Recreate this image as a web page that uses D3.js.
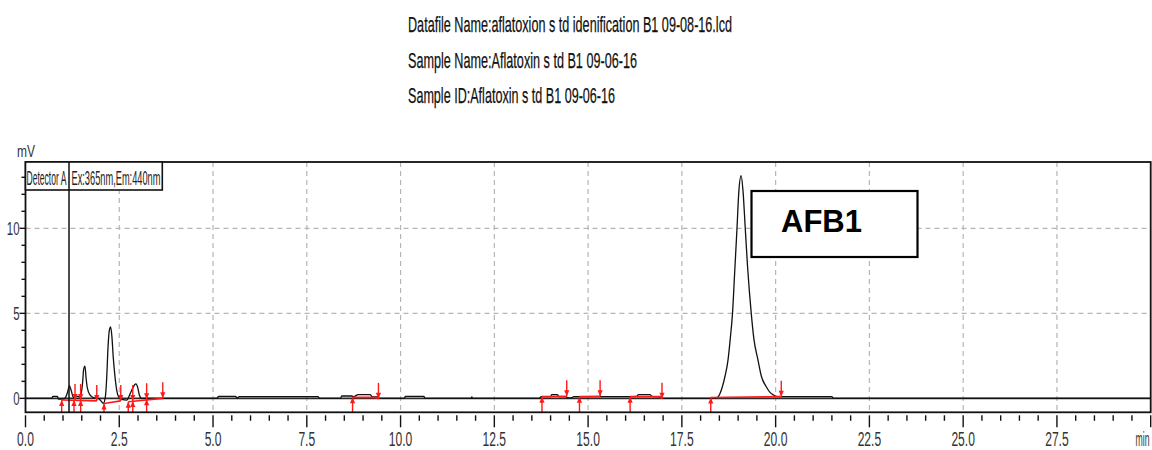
<!DOCTYPE html>
<html><head><meta charset="utf-8">
<script src="https://cdn.jsdelivr.net/npm/d3@7/dist/d3.min.js"></script>
<style>
html,body{margin:0;padding:0;background:#fff;}
svg{display:block;}
</style></head>
<body>
<svg id="c" width="1152" height="450"></svg>
<script>
// ---------- DATA ----------
const headerLines = [
  "Datafile Name:aflatoxion s td idenification B1 09-08-16.lcd",
  "Sample Name:Aflatoxin s td B1 09-06-16",
  "Sample ID:Aflatoxin s td B1 09-06-16"
];
const legendLabels = ["Detector A", "Ex:365nm,Em:440nm"];
const yAxisUnit = "mV";
const xAxisUnit = "min";
const peakLabel = "AFB1";

const xTickLabels = ["0.0","2.5","5.0","7.5","10.0","12.5","15.0","17.5","20.0","22.5","25.0","27.5"];
const yTickLabels = ["0","5","10"];
const cursorTime = [1.16];

const traceTime = [0,0.70,0.73,0.85,0.88,0.95,1.05,1.12,1.17,1.22,1.28,1.33,1.40,1.45,1.50,1.525,1.55,1.585,1.615,1.65,1.72,1.81,1.94,2.00,2.075,2.13,2.165,2.20,2.235,2.27,2.305,2.34,2.385,2.43,2.485,2.565,2.70,2.785,2.86,2.91,2.945,2.99,3.035,3.10,5.10,5.15,5.60,5.64,5.70,7.80,7.84,8.40,8.43,8.70,8.75,8.87,9.19,9.24,9.38,9.43,10.10,10.13,10.62,10.65,11.88,11.90,11.92,13.70,13.75,14.00,14.03,14.18,14.22,14.40,14.46,14.55,14.62,15.37,16.07,16.30,16.34,16.65,16.70,16.94,17.00,18.40,18.47,18.52,18.58,18.65,18.73,18.79,18.85,18.91,18.97,19.02,19.08,19.13,19.19,19.25,19.35,19.42,19.53,19.62,19.75,19.85,19.94,20.07,21.50,21.54,30];
const traceMV   = [0,0,0.12,0.12,-0.05,-0.05,0,0.35,0.75,0.45,0.05,0.12,0.12,0.08,0.5,1.0,1.7,1.9,1.2,0.6,0.2,0.05,0,-0.12,-0.3,0.1,1.2,3.0,4.0,4.2,3.6,2.4,1.3,0.5,0.08,-0.06,-0.1,0.25,0.6,0.8,0.85,0.65,0.2,0,0,0.12,0.12,0.02,0.1,0.1,0,0,0.14,0.14,0.1,0.22,0.22,0.1,0.08,0,0,0.12,0.12,0,0,0.08,0,0,0.1,0.1,0.22,0.22,0.1,0.1,0.03,0.03,0.1,0.1,0.1,0.12,0.22,0.22,0.12,0.08,0,0,0.1,0.3,0.68,1.3,2.25,3.5,5.0,7.5,10.0,12.2,13.1,12.2,10.0,7.8,5.0,3.5,2.25,1.3,0.68,0.35,0.2,0.1,0.1,0,0];

const peakStartTime = [0.965,1.293,1.47,2.093,2.74,2.86,3.23,8.72,13.77,14.77,16.12,18.27];
const peakStartMV   = [-0.1,-0.1,-0.1,-0.3,-0.2,-0.15,-0.05,0.06,0.1,0.1,0.1,0.05];
const peakEndTime   = [1.32,1.47,1.90,2.54,2.86,3.23,3.66,9.41,14.43,15.32,16.97,20.15];
const peakEndMV     = [-0.1,-0.1,-0.15,-0.15,-0.15,-0.05,0,-0.03,0.12,0.12,-0.02,0.1];

const baselineSegments = [
  [[0.965,-0.1],[1.90,-0.15]],
  [[2.093,-0.3],[2.54,-0.15]],
  [[2.74,-0.2],[3.66,0]],
  [[8.72,0.06],[9.30,0.06],[9.41,-0.03]],
  [[13.77,0.1],[14.43,0.12]],
  [[14.77,0.1],[15.32,0.12]],
  [[16.12,0.1],[16.90,0.1],[16.97,-0.02]],
  [[18.27,0.05],[20.15,0.1]]
];

// ---------- LAYOUT ----------
const L = 25.5, R = 1150.7, T = 162, B = 412.3;
const svg = d3.select("#c");
const NARROW = "'Liberation Sans Narrow','Liberation Sans',Arial,sans-serif";

const x = d3.scaleLinear().domain([0, 30]).range([L, R]);
const y = d3.scaleLinear().domain([-0.82, 13.9]).range([B, T]);

function squash(sel, k) {
  sel.each(function () {
    const w = this.getComputedTextLength();
    this.setAttribute("textLength", (w * k).toFixed(2));
    this.setAttribute("lengthAdjust", "spacingAndGlyphs");
  });
}
// horizontally compress a text (anchored at start) to a given width using a transform
function fitWidth(sel, widthFn) {
  sel.each(function (d, i) {
    const w = this.getComputedTextLength();
    const tx = +this.getAttribute("x"), ty = +this.getAttribute("y");
    const s = widthFn(d, i) / w;
    this.setAttribute("x", 0); this.setAttribute("y", 0);
    this.setAttribute("transform", `translate(${tx},${ty}) scale(${s.toFixed(4)},1)`);
  });
}

// header
const headerWidths = [324, 229, 207];
const headerBase = [32, 68, 103];
svg.append("g").selectAll("text").data(headerLines).join("text")
  .attr("x", 408).attr("y", (d, i) => headerBase[i])
  .attr("font-family", NARROW).attr("font-size", 22).attr("fill", "#111")
  .attr("stroke", "#111").attr("stroke-width", 0.25)
  .attr("textLength", (d, i) => headerWidths[i]).attr("lengthAdjust", "spacingAndGlyphs")
  .text(d => d);

// grid
const xMajor = xTickLabels.map(Number);
const grid = svg.append("g").attr("stroke", "#b5b5b5").attr("stroke-width", 1.2).attr("stroke-dasharray", "5,4");
grid.selectAll("line.v").data(xMajor.filter(v => v > 0)).join("line")
  .attr("x1", d => x(d)).attr("x2", d => x(d)).attr("y1", T).attr("y2", B);
grid.selectAll("line.h").data(yTickLabels.map(Number).filter(v => v > 0)).join("line")
  .attr("x1", L).attr("x2", R).attr("y1", d => y(d)).attr("y2", d => y(d));

// zero line
svg.append("line").attr("x1", L).attr("x2", R).attr("y1", y(0)).attr("y2", y(0))
  .attr("stroke", "#2a2a2a").attr("stroke-width", 1.6);

// trace
const traceData = traceTime.map((t, i) => [t, traceMV[i]]);
svg.append("path").datum(traceData)
  .attr("d", d3.line().x(d => x(d[0])).y(d => y(d[1])).curve(d3.curveMonotoneX))
  .attr("fill", "none").attr("stroke", "#111").attr("stroke-width", 1.3);

// integration baselines & markers
const red = "#ff1a1a";
svg.append("g").selectAll("path").data(baselineSegments).join("path")
  .attr("d", d3.line().x(d => x(d[0])).y(d => y(d[1])))
  .attr("fill", "none").attr("stroke", red).attr("stroke-width", 1.6);

const mk = svg.append("g").attr("fill", red).attr("stroke", red);
peakEndTime.forEach((t, i) => {
  const px = x(t), py = y(peakEndMV[i]);
  mk.append("line").attr("x1", px).attr("x2", px).attr("y1", py - 16).attr("y2", py).attr("stroke-width", 1.4);
  mk.append("path").attr("d", `M${px - 2.6},${py - 6}L${px + 2.6},${py - 6}L${px},${py}Z`).attr("stroke", "none");
});
peakStartTime.forEach((t, i) => {
  const px = x(t), py = y(peakStartMV[i]);
  mk.append("line").attr("x1", px).attr("x2", px).attr("y1", B).attr("y2", py).attr("stroke-width", 1.4);
  mk.append("path").attr("d", `M${px - 2.6},${py + 6}L${px + 2.6},${py + 6}L${px},${py}Z`).attr("stroke", "none");
});

// frame
svg.append("rect").attr("x", L).attr("y", T).attr("width", R - L).attr("height", B - T)
  .attr("fill", "none").attr("stroke", "#111").attr("stroke-width", 1.8);

// x ticks
const xt = svg.append("g").attr("stroke", "#111").attr("stroke-width", 1.4);
xt.selectAll("line").data(d3.range(0, 30.001, 0.5)).join("line")
  .attr("x1", d => x(d)).attr("x2", d => x(d))
  .attr("y1", B + 3).attr("y2", d => (Math.abs(d / 2.5 - Math.round(d / 2.5)) < 1e-6 ? B + 15 : B + 8.5));
svg.append("g").selectAll("text").data(xTickLabels).join("text")
  .attr("x", d => x(+d)).attr("y", 445.5).attr("text-anchor", "middle")
  .attr("font-family", NARROW).attr("font-size", 19.5).attr("fill", "#333")
  .text(d => d).call(squash, 0.62);
svg.append("text").datum(xAxisUnit).attr("x", 1135.5).attr("y", 445.5)
  .attr("font-family", NARROW).attr("font-size", 19.5).attr("fill", "#333")
  .text(d => d).call(fitWidth, () => 14);

// y ticks
const yt = svg.append("g").attr("stroke", "#111").attr("stroke-width", 1.4);
yt.selectAll("line").data(d3.range(0, 13.001, 1)).join("line")
  .attr("x1", d => (d % 5 === 0 ? L - 6 : L - 4)).attr("x2", L)
  .attr("y1", d => y(d)).attr("y2", d => y(d));
svg.append("g").selectAll("text").data(yTickLabels).join("text")
  .attr("x", 19.5).attr("y", d => y(+d) + 6.5).attr("text-anchor", "end")
  .attr("font-family", NARROW).attr("font-size", 19).attr("fill", "#333")
  .text(d => d).call(squash, 0.6);
svg.append("text").attr("x", 17).attr("y", 157)
  .attr("font-family", NARROW).attr("font-size", 16).attr("fill", "#333")
  .text(yAxisUnit).call(squash, 0.75);

// legend box
svg.append("rect").attr("x", L).attr("y", T).attr("width", 162.3 - L).attr("height", 190 - T)
  .attr("fill", "#fff").attr("stroke", "#111").attr("stroke-width", 1.6);
const legendX = [26.5, 71.5], legendW = [40, 89];
svg.append("g").selectAll("text").data(legendLabels).join("text")
  .attr("x", (d, i) => legendX[i]).attr("y", 184.5)
  .attr("font-family", NARROW).attr("font-size", 20).attr("fill", "#222")
  .text(d => d).call(fitWidth, (d, i) => legendW[i]);

// cursor line
svg.append("g").selectAll("line").data(cursorTime).join("line")
  .attr("x1", d => x(d)).attr("x2", d => x(d)).attr("y1", T).attr("y2", B)
  .attr("stroke", "#111").attr("stroke-width", 1.5);

// AFB1 label box
svg.append("rect").attr("x", 751.5).attr("y", 191).attr("width", 166).attr("height", 66)
  .attr("fill", "#fff").attr("stroke", "#000").attr("stroke-width", 2.2);
svg.append("text").attr("x", 781).attr("y", 231.5)
  .attr("font-family", "'Liberation Sans',Arial,sans-serif").attr("font-weight", "bold")
  .attr("font-size", 31).attr("fill", "#000").text(peakLabel);
</script>
</body></html>
